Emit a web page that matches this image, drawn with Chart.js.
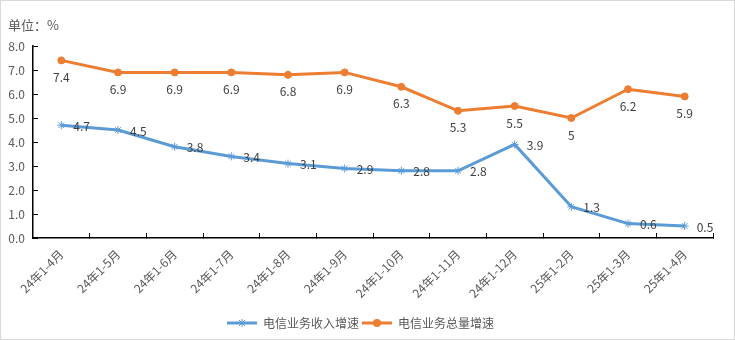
<!DOCTYPE html>
<html>
<head>
<meta charset="utf-8">
<script src="https://cdn.jsdelivr.net/npm/chart.js@4/dist/chart.umd.min.js"></script>
<style>
  html, body { margin: 0; padding: 0; background: #fff; }
  #wrap { width: 735px; height: 340px; box-sizing: border-box; border: 1px solid #d9d9d9; position: relative; }
</style>
</head>
<body>
<div id="wrap"><canvas id="chart"></canvas></div>
<script>
var months = ['24年1-4月','24年1-5月','24年1-6月','24年1-7月','24年1-8月','24年1-9月','24年1-10月','24年1-11月','24年1-12月','25年1-2月','25年1-3月','25年1-4月']
var incomeGrowth = [4.7, 4.5, 3.8, 3.4, 3.1, 2.9, 2.8, 2.8, 3.9, 1.3, 0.6, 0.5]
var volumeGrowth = [7.4, 6.9, 6.9, 6.9, 6.8, 6.9, 6.3, 5.3, 5.5, 5, 6.2, 5.9]
var yTicks = [0, 1, 2, 3, 4, 5, 6, 7, 8]

var FONT = '"Noto Sans CJK SC", "Microsoft YaHei", sans-serif'
var BLUE = '#5B9BD5', ORANGE = '#ED7D31', GREY = '#595959'

// legend swatch: short line with the marker in the middle
function swatch(color, marker) {
  let c = document.createElement('canvas')
  c.width = 30; c.height = 10
  let ctx = c.getContext('2d')
  ctx.strokeStyle = color; ctx.fillStyle = color; ctx.lineWidth = 3
  ctx.beginPath(); ctx.moveTo(0, 5); ctx.lineTo(30, 5); ctx.stroke()
  if (marker == 'circle') {
    ctx.beginPath(); ctx.arc(15, 5, 4, 0, Math.PI*2); ctx.fill()
  } else {
    ctx.lineWidth = 1
    ctx.beginPath()
    ctx.moveTo(12, 2); ctx.lineTo(18, 8); ctx.moveTo(18, 2); ctx.lineTo(12, 8)
    ctx.moveTo(15, 1); ctx.lineTo(15, 9)
    ctx.stroke()
  }
  return c
}

var valueLabels = {
  id: 'valueLabels',
  afterDatasetsDraw(chart) {
    let ctx = chart.ctx
    ctx.save()
    ctx.font = '12px ' + FONT
    ctx.fillStyle = '#404040'
    chart.data.datasets.forEach((ds, i) => {
      chart.getDatasetMeta(i).data.forEach((pt, j) => {
        let txt = String(ds.data[j])
        if (i == 0) {
          ctx.textAlign = 'left'; ctx.textBaseline = 'middle'
          ctx.fillText(txt, pt.x + 12, pt.y + 1)
        } else {
          ctx.textAlign = 'center'; ctx.textBaseline = 'middle'
          ctx.fillText(txt, pt.x, pt.y + 17)
        }
      })
    })
    ctx.restore()
  },
  afterDraw(chart) {
    let ctx = chart.ctx
    ctx.save()
    ctx.font = '13px ' + FONT
    ctx.fillStyle = GREY
    ctx.textAlign = 'left'; ctx.textBaseline = 'middle'
    ctx.fillText('单位：%', 7, 24)
    ctx.restore()
  }
}

var chart = new Chart(document.getElementById('chart'), {
  type: 'line',
  data: {
    labels: months,
    datasets: [{
      label: '电信业务收入增速',
      data: incomeGrowth,
      borderColor: BLUE,
      backgroundColor: BLUE,
      borderWidth: 3,
      pointStyle: 'star',
      pointRadius: 4,
      pointBorderWidth: 1,
      tension: 0
    }, {
      label: '电信业务总量增速',
      data: volumeGrowth,
      borderColor: ORANGE,
      backgroundColor: ORANGE,
      borderWidth: 3,
      pointStyle: 'circle',
      pointRadius: 3.5,
      pointBorderWidth: 1,
      tension: 0
    }]
  },
  options: {
    responsive: true,
    maintainAspectRatio: false,
    animation: false,
    layout: { padding: { top: 45, left: 7, right: 21, bottom: 0 } },
    scales: {
      x: {
        offset: true,
        grid: { offset: true, drawOnChartArea: false, color: '#000', tickLength: -5, tickWidth: 1 },
        border: { color: '#000', width: 1.5 },
        ticks: { color: GREY, font: { size: 12, family: FONT }, maxRotation: 45, minRotation: 45, padding: 14 },
        afterFit: (scale) => { scale.height = 76 }
      },
      y: {
        min: 0, max: 8,
        afterBuildTicks: (scale) => { scale.ticks = yTicks.map(v => ({ value: v })) },
        grid: { drawOnChartArea: false, color: '#000', tickLength: -5, tickWidth: 1 },
        border: { color: '#000', width: 1.5 },
        ticks: { color: GREY, font: { size: 12, family: FONT }, padding: 13, callback: v => v.toFixed(1) },
        afterFit: (scale) => { scale.width = 25 }
      }
    },
    plugins: {
      legend: {
        position: 'bottom',
        labels: {
          color: GREY,
          font: { size: 12, family: FONT },
          usePointStyle: true,
          pointStyleWidth: 30,
          padding: 3,
          generateLabels: (chart) => Chart.defaults.plugins.legend.labels.generateLabels(chart).map((l, i) => {
            l.pointStyle = swatch(i == 0 ? BLUE : ORANGE, i == 0 ? 'star' : 'circle')
            return l
          })
        }
      },
      tooltip: { enabled: false }
    }
  },
  plugins: [valueLabels]
})
</script>
</body>
</html>
